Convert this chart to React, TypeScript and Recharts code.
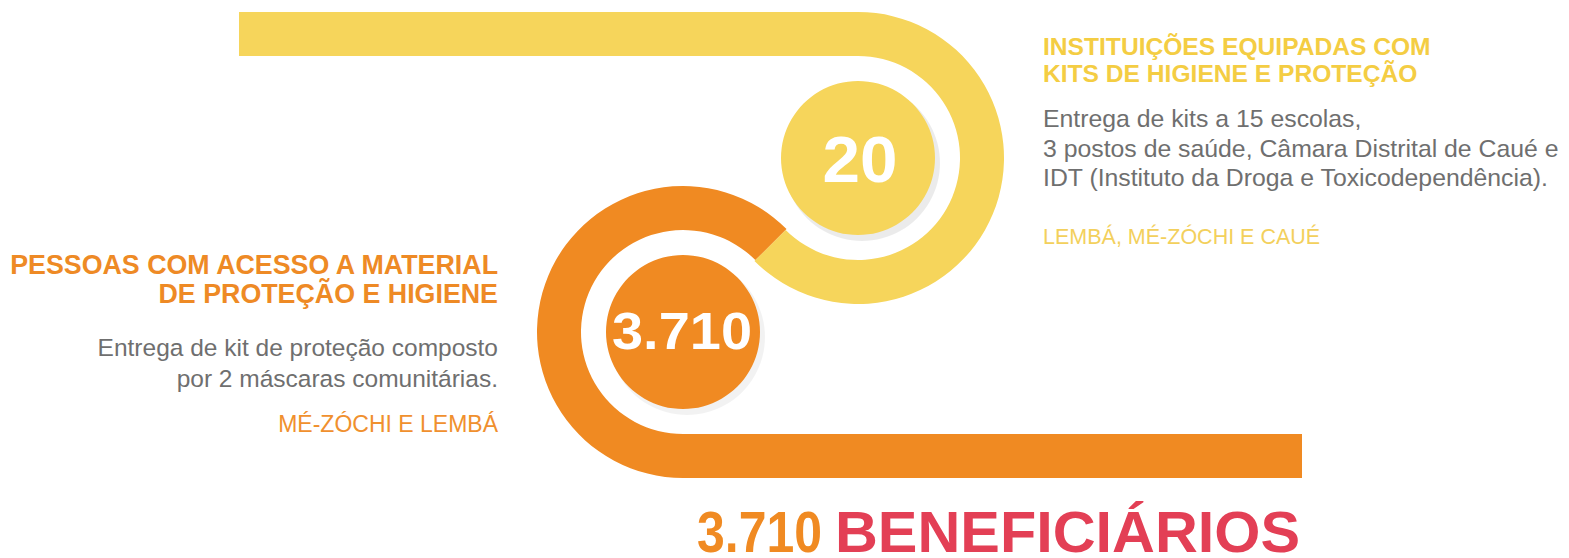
import React from "react";
import { ComposedChart, XAxis, YAxis, ReferenceArea, PieChart, Pie } from "recharts";

// values shown in the two discs
const metricNames = ["Instituições equipadas", "Pessoas com acesso a material"];
const metricValues = [20, 3710];
const metricColors = ["#F6D55B", "#F08A22"];
const totalBeneficiaries = 3710;

// text blocks
const rightTitle = ["INSTITUIÇÕES EQUIPADAS COM", "KITS DE HIGIENE E PROTEÇÃO"];
const rightBody = [
  "Entrega de kits a 15 escolas,",
  "3 postos de saúde, Câmara Distrital de Caué e",
  "IDT (Instituto da Droga e Toxicodependência).",
];
const rightPlace = "LEMBÁ, MÉ-ZÓCHI E CAUÉ";
const leftTitle = ["PESSOAS COM ACESSO A MATERIAL", "DE PROTEÇÃO E HIGIENE"];
const leftBody = ["Entrega de kit de proteção composto", "por 2 máscaras comunitárias."];
const leftPlace = "MÉ-ZÓCHI E LEMBÁ";
const totalLabel = "BENEFICIÁRIOS";

const W = 1569;
const H = 558;
const FONT = "'Liberation Sans', Arial, sans-serif";
const GREY = "#6F6F6F";
const RED = "#E33F55";

// layout of the S-shaped ribbon
const centers = [
  { cx: 858, cy: 158 },
  { cx: 683, cy: 332 },
];
const INNER = 102;
const OUTER = 146;
const DISC = 77;

const fmt = (v: number) => String(v).replace(/\B(?=(\d{3})+(?!\d))/g, ".");

const deg = (a: { cx: number; cy: number }, b: { cx: number; cy: number }) =>
  (Math.atan2(-(b.cy - a.cy), b.cx - a.cx) * 180) / Math.PI;

export default function App() {
  const [c1, c2] = centers;
  const joinYellow = deg(c1, c2);
  const joinOrange = deg(c2, c1);

  return (
    <div style={{ position: "absolute", left: 0, top: 0, width: W, height: H, background: "#fff" }}>
      <div style={{ position: "absolute", left: 0, top: 0 }}>
        <ComposedChart
          width={W}
          height={H}
          margin={{ top: 0, right: 0, bottom: 0, left: 0 }}
          data={[{ x: 0, y: 0 }, { x: W, y: H }]}
        >
          <XAxis type="number" dataKey="x" domain={[0, W]} hide />
          <YAxis type="number" dataKey="y" domain={[0, H]} reversed hide />
          <ReferenceArea
            x1={239}
            x2={c1.cx}
            y1={c1.cy - OUTER}
            y2={c1.cy - INNER}
            fill={metricColors[0]}
            fillOpacity={1}
            stroke="none"
            ifOverflow="visible"
          />
          <ReferenceArea
            x1={c2.cx}
            x2={1302}
            y1={c2.cy + INNER}
            y2={c2.cy + OUTER}
            fill={metricColors[1]}
            fillOpacity={1}
            stroke="none"
            ifOverflow="visible"
          />
        </ComposedChart>
      </div>
      <div style={{ position: "absolute", left: 0, top: 0 }}>
        <PieChart width={W} height={H} margin={{ top: 0, right: 0, bottom: 0, left: 0 }}>
          <Pie
            data={[{ name: metricNames[0], value: metricValues[0] }]}
            dataKey="value"
            cx={c1.cx}
            cy={c1.cy}
            innerRadius={INNER}
            outerRadius={OUTER}
            startAngle={90}
            endAngle={joinYellow}
            fill={metricColors[0]}
            stroke="none"
            isAnimationActive={false}
          />
          <Pie
            data={[{ name: metricNames[1], value: metricValues[1] }]}
            dataKey="value"
            cx={c2.cx}
            cy={c2.cy}
            innerRadius={INNER}
            outerRadius={OUTER}
            startAngle={joinOrange}
            endAngle={270}
            fill={metricColors[1]}
            stroke="none"
            isAnimationActive={false}
          />
          {centers.map((c, i) => (
            <Pie
              key={"shadow" + i}
              data={[{ name: "shadow", value: 1 }]}
              dataKey="value"
              cx={c.cx + 4}
              cy={c.cy + 5}
              outerRadius={DISC + 1}
              fill="#000"
              fillOpacity={i === 0 ? 0.08 : 0.05}
              stroke="none"
              isAnimationActive={false}
            />
          ))}
          {centers.map((c, i) => (
            <Pie
              key={"disc" + i}
              data={[{ name: metricNames[i], value: metricValues[i] }]}
              dataKey="value"
              cx={c.cx}
              cy={c.cy}
              outerRadius={DISC}
              fill={metricColors[i]}
              stroke="none"
              isAnimationActive={false}
            />
          ))}
        </PieChart>
      </div>
      <svg width={W} height={H} style={{ position: "absolute", left: 0, top: 0, pointerEvents: "none" }}>
        <g fontFamily={FONT}>
          {/* disc numbers */}
          <text x={860} y={182} textAnchor="middle" fontSize={64} fontWeight="bold" fill="#fff" textLength={75} lengthAdjust="spacingAndGlyphs">
            {fmt(metricValues[0])}
          </text>
          <text x={682} y={349} textAnchor="middle" fontSize={51} fontWeight="bold" fill="#fff" textLength={140} lengthAdjust="spacingAndGlyphs">
            {fmt(metricValues[1])}
          </text>

          {/* right block */}
          {rightTitle.map((t, i) => (
            <text key={t} x={1043} y={55 + i * 27} fontSize={24.6} fontWeight="bold" fill="#F4CD43">
              {t}
            </text>
          ))}
          {rightBody.map((t, i) => (
            <text key={t} x={1043} y={127 + i * 29.5} fontSize={24.8} fill={GREY}>
              {t}
            </text>
          ))}
          <text x={1043} y={244} fontSize={21.5} fill="#F3D05C">
            {rightPlace}
          </text>

          {/* left block */}
          {leftTitle.map((t, i) => (
            <text key={t} x={498} y={274 + i * 28.5} textAnchor="end" fontSize={26.8} fontWeight="bold" fill="#EE8A25">
              {t}
            </text>
          ))}
          {leftBody.map((t, i) => (
            <text key={t} x={498} y={356 + i * 31} textAnchor="end" fontSize={24.5} fill={GREY}>
              {t}
            </text>
          ))}
          <text x={498} y={432} textAnchor="end" fontSize={23} fill="#F0902E">
            {leftPlace}
          </text>

          {/* total */}
          <text x={697} y={552} fontSize={58} fontWeight="bold" fill={metricColors[1]} textLength={125} lengthAdjust="spacingAndGlyphs">
            {fmt(totalBeneficiaries)}
          </text>
          <text x={835} y={552} fontSize={58} fontWeight="bold" fill={RED} textLength={465} lengthAdjust="spacingAndGlyphs">
            {totalLabel}
          </text>
        </g>
      </svg>
    </div>
  );
}
